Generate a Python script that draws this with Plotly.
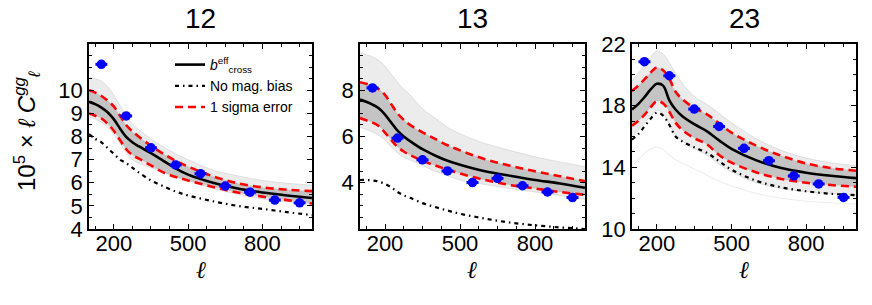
import plotly.graph_objects as go

# ---------------- data ----------------
ELL_CURVE = [100, 125, 150, 175, 200, 225, 250, 275, 300, 350, 400, 450, 500, 600, 700, 800, 900, 1000]
ELL_DATA = [150, 250, 350, 450, 550, 650, 750, 850, 950]
ELL_HALF_BIN = [24, 24, 24, 24, 24, 24, 24, 24, 24]

PANEL_TITLES = ["12", "13", "23"]

# panel 12
b12_black = [9.50, 9.40, 9.25, 9.05, 8.75, 8.35, 7.98, 7.75, 7.58, 7.28, 6.95, 6.62, 6.35, 6.00, 5.75, 5.58, 5.45, 5.34]
b12_up = [10.0, 9.90, 9.75, 9.55, 9.30, 8.90, 8.50, 8.22, 8.00, 7.60, 7.25, 6.95, 6.70, 6.28, 5.98, 5.80, 5.70, 5.64]
b12_lo = [9.00, 8.90, 8.78, 8.55, 8.25, 7.85, 7.45, 7.20, 7.05, 6.75, 6.45, 6.25, 6.10, 5.82, 5.58, 5.40, 5.25, 5.10]
b12_nomag = [8.10, 7.90, 7.75, 7.50, 7.25, 7.00, 6.85, 6.65, 6.45, 6.10, 5.85, 5.62, 5.45, 5.20, 5.00, 4.87, 4.73, 4.60]
b12_gray_hi = [10.55, 10.50, 10.40, 10.15, 9.80, 9.35, 8.90, 8.55, 8.30, 7.90, 7.55, 7.25, 7.00, 6.55, 6.30, 6.10, 5.98, 5.90]
b12_gray_lo = [8.85, 8.75, 8.62, 8.40, 8.10, 7.70, 7.30, 7.00, 6.85, 6.65, 6.48, 6.25, 6.08, 5.75, 5.50, 5.30, 5.18, 5.08]
d12 = [11.12, 8.89, 7.51, 6.77, 6.39, 5.86, 5.59, 5.25, 5.13]
d12_err = [0.10, 0.10, 0.10, 0.10, 0.10, 0.10, 0.10, 0.10, 0.10]

# panel 13
b13_black = [7.60, 7.50, 7.38, 7.22, 6.95, 6.60, 6.25, 6.00, 5.80, 5.45, 5.18, 4.95, 4.78, 4.50, 4.30, 4.12, 3.97, 3.78]
b13_up = [8.35, 8.28, 8.18, 8.05, 7.80, 7.40, 7.00, 6.72, 6.50, 6.18, 5.90, 5.62, 5.40, 5.02, 4.74, 4.50, 4.28, 4.07]
b13_lo = [6.80, 6.70, 6.60, 6.45, 6.17, 5.85, 5.55, 5.35, 5.20, 4.95, 4.75, 4.57, 4.40, 4.12, 3.90, 3.75, 3.60, 3.48]
b13_nomag = [4.12, 4.12, 4.10, 4.05, 3.95, 3.80, 3.60, 3.45, 3.35, 3.12, 2.95, 2.80, 2.66, 2.45, 2.28, 2.16, 2.07, 2.00]
b13_gray_hi = [9.62, 9.55, 9.45, 9.30, 9.05, 8.70, 8.35, 8.05, 7.80, 7.20, 6.80, 6.40, 6.12, 5.70, 5.40, 5.12, 4.90, 4.70]
b13_gray_lo = [6.40, 6.30, 6.20, 6.05, 5.85, 5.55, 5.30, 5.10, 4.98, 4.75, 4.50, 4.30, 4.12, 3.92, 3.75, 3.60, 3.45, 3.28]
d13 = [8.10, 5.93, 4.99, 4.51, 4.01, 4.19, 3.87, 3.60, 3.36]
d13_err = [0.08, 0.08, 0.08, 0.08, 0.08, 0.08, 0.08, 0.08, 0.08]

# panel 23
b23_black = [17.75, 18.10, 18.55, 19.05, 19.42, 19.30, 18.35, 17.75, 17.35, 16.80, 16.35, 15.75, 15.20, 14.45, 13.95, 13.65, 13.45, 13.30]
b23_up = [18.95, 19.30, 19.70, 20.15, 20.48, 20.30, 19.75, 18.90, 18.45, 17.85, 17.45, 16.85, 16.25, 15.40, 14.75, 14.25, 13.95, 13.78]
b23_lo = [16.70, 17.00, 17.40, 17.90, 18.30, 18.15, 17.60, 16.90, 16.45, 15.90, 15.50, 14.80, 14.30, 13.67, 13.25, 13.00, 12.85, 12.74]
b23_nomag = [15.80, 16.15, 16.65, 17.15, 17.55, 17.35, 16.75, 16.00, 15.70, 15.30, 14.95, 14.40, 13.85, 13.13, 12.70, 12.45, 12.28, 12.20]
b23_gray_hi = [19.60, 20.10, 20.60, 21.15, 21.55, 21.35, 20.80, 20.10, 19.50, 18.60, 18.10, 17.50, 16.90, 15.85, 15.10, 14.60, 14.30, 14.10]
b23_gray_lo = [16.00, 16.40, 16.85, 17.30, 17.70, 17.50, 16.80, 16.10, 15.75, 15.20, 14.80, 14.20, 13.70, 13.00, 12.62, 12.42, 12.30, 12.20]
b23_gray_outlier = [14.10, 14.50, 14.90, 15.20, 15.30, 15.15, 14.80, 14.50, 14.30, 13.90, 13.50, 13.10, 12.80, 12.30, 12.00, 11.80, 11.70, 11.62]
d23 = [20.85, 19.94, 17.78, 16.65, 15.23, 14.43, 13.44, 12.92, 12.05]
d23_err = [0.12, 0.12, 0.12, 0.12, 0.12, 0.12, 0.12, 0.12, 0.12]

Y_RANGES = [[4, 12], [2, 10], [10, 22]]
Y_TICKS = [[4, 5, 6, 7, 8, 9, 10], [4, 6, 8], [10, 14, 18, 22]]
Y_MINOR = [0.5, 0.5, 1]
X_TICKS = [200, 500, 800]

panels = [
    dict(black=b12_black, up=b12_up, lo=b12_lo, nomag=b12_nomag, ghi=b12_gray_hi, glo=b12_gray_lo, d=d12, derr=d12_err, extra=None),
    dict(black=b13_black, up=b13_up, lo=b13_lo, nomag=b13_nomag, ghi=b13_gray_hi, glo=b13_gray_lo, d=d13, derr=d13_err, extra=None),
    dict(black=b23_black, up=b23_up, lo=b23_lo, nomag=b23_nomag, ghi=b23_gray_hi, glo=b23_gray_lo, d=d23, derr=d23_err, extra=b23_gray_outlier),
]

# ---------------- layout geometry ----------------
W, H = 872, 305
X_DOM_PX = [(89, 312), (360, 585), (632, 856)]
Y_TOP_PX, Y_BOT_PX = 44, 229

FONT = "Liberation Sans, Arial, sans-serif"
NARROW = "Liberation Sans Narrow, Arial Narrow, Liberation Sans, sans-serif"
fig = go.Figure()

for i, p in enumerate(panels):
    ax = "" if i == 0 else str(i + 1)
    xa, ya = "x" + ax, "y" + ax
    sp = dict(xaxis=xa, yaxis=ya)
    first = i == 0
    # gray realisations (outer envelope)
    fig.add_trace(go.Scatter(x=ELL_CURVE, y=p["ghi"], mode="lines", line=dict(width=0.6, color="rgba(150,150,150,0.4)", shape="spline"),
                             showlegend=False, hoverinfo="skip", **sp))
    fig.add_trace(go.Scatter(x=ELL_CURVE, y=p["glo"], mode="lines", line=dict(width=0.6, color="rgba(150,150,150,0.4)", shape="spline"),
                             fill="tonexty", fillcolor="rgba(0,0,0,0.075)", showlegend=False, hoverinfo="skip", **sp))
    # denser inner part
    fig.add_trace(go.Scatter(x=ELL_CURVE, y=p["up"], mode="lines", line=dict(width=0, shape="spline"),
                             showlegend=False, hoverinfo="skip", **sp))
    fig.add_trace(go.Scatter(x=ELL_CURVE, y=p["lo"], mode="lines", line=dict(width=0, shape="spline"),
                             fill="tonexty", fillcolor="rgba(0,0,0,0.17)", showlegend=False, hoverinfo="skip", **sp))
    if p["extra"] is not None:
        fig.add_trace(go.Scatter(x=ELL_CURVE, y=p["extra"], mode="lines", line=dict(width=0.8, color="rgba(0,0,0,0.1)", shape="spline"),
                                 showlegend=False, hoverinfo="skip", **sp))
    # no magnification bias
    fig.add_trace(go.Scatter(x=ELL_CURVE, y=p["nomag"], mode="lines", name="No mag. bias",
                             line=dict(color="black", width=2.2, dash="4px,4px,1.5px,4px", shape="spline"),
                             showlegend=first, legendrank=2, **sp))
    # 1 sigma
    fig.add_trace(go.Scatter(x=ELL_CURVE, y=p["up"], mode="lines", name="1 sigma error",
                             line=dict(color="red", width=2.6, dash="8px,5px", shape="spline"),
                             showlegend=first, legendrank=3, **sp))
    fig.add_trace(go.Scatter(x=ELL_CURVE, y=p["lo"], mode="lines", name="1 sigma error",
                             line=dict(color="red", width=2.6, dash="8px,5px", shape="spline"),
                             showlegend=False, **sp))
    # best fit
    fig.add_trace(go.Scatter(x=ELL_CURVE, y=p["black"], mode="lines",
                             name="<i>b</i><sup>eff</sup><sub>cross</sub>",
                             line=dict(color="black", width=2.6, shape="spline"),
                             showlegend=first, legendrank=1, **sp))
    # data
    fig.add_trace(go.Scatter(x=ELL_DATA, y=p["d"], mode="markers",
                             marker=dict(color="#0000ff", size=9.5, line=dict(width=0)),
                             error_x=dict(type="data", array=ELL_HALF_BIN, color="#0000ff", thickness=3, width=0),
                             error_y=dict(type="data", array=p["derr"], color="#0000ff", thickness=3, width=0),
                             showlegend=False, **sp))

    x0, x1 = X_DOM_PX[i]
    axis_common = dict(showline=True, linecolor="black", linewidth=1.5, mirror="allticks",
                       ticks="inside", ticklen=5, tickwidth=1, tickcolor="black",
                       showgrid=False, zeroline=False,
                       tickfont=dict(family=NARROW, size=22, color="black"))
    fig.layout["xaxis" + ax] = dict(domain=[x0 / W, x1 / W], anchor=ya, range=[100, 1000],
                                    tickmode="array", tickvals=X_TICKS, ticklabelstandoff=-6,
                                    minor=dict(ticks="inside", ticklen=3, tick0=200, dtick=75, tickcolor="black"),
                                    **axis_common)
    fig.layout["yaxis" + ax] = dict(domain=[1 - Y_BOT_PX / H, 1 - Y_TOP_PX / H], anchor=xa, range=Y_RANGES[i],
                                    tickmode="array", tickvals=Y_TICKS[i],
                                    minor=dict(ticks="inside", ticklen=3, tick0=0, dtick=Y_MINOR[i], tickcolor="black"),
                                    **axis_common)
    fig.add_annotation(text=PANEL_TITLES[i], x=(x0 + x1) / 2 / W, y=1 - 18 / H, xref="paper", yref="paper",
                       showarrow=False, font=dict(family=NARROW, size=28, color="black"), xanchor="center", yanchor="middle")
    fig.add_annotation(text="<i>ℓ</i>", x=(x0 + x1) / 2 / W, y=1 - 270 / H, xref="paper", yref="paper",
                       showarrow=False, font=dict(family="DejaVu Serif, serif", size=24, color="black"),
                       xanchor="center", yanchor="middle")

fig.add_annotation(text="10<sup>5</sup> × <i>ℓ C</i><sup><i>gg</i></sup><sub><i>ℓ</i></sub>",
                   x=27 / W, y=1 - 131 / H, xref="paper", yref="paper", textangle=-90,
                   showarrow=False, font=dict(family=FONT, size=24, color="black"),
                   xanchor="center", yanchor="middle")

fig.update_layout(
    width=W, height=H, margin=dict(l=0, r=0, t=0, b=0, autoexpand=False),
    paper_bgcolor="white", plot_bgcolor="white",
    legend=dict(x=170 / W, y=1 - 49 / H, xanchor="left", yanchor="top", bgcolor="rgba(0,0,0,0)",
                font=dict(family=FONT, size=14, color="black"), tracegroupgap=0, itemwidth=30,
                traceorder="normal"),
)

fig.write_html("out.html", config={"displayModeBar": False},
               post_script="document.body.style.margin='0px';")
